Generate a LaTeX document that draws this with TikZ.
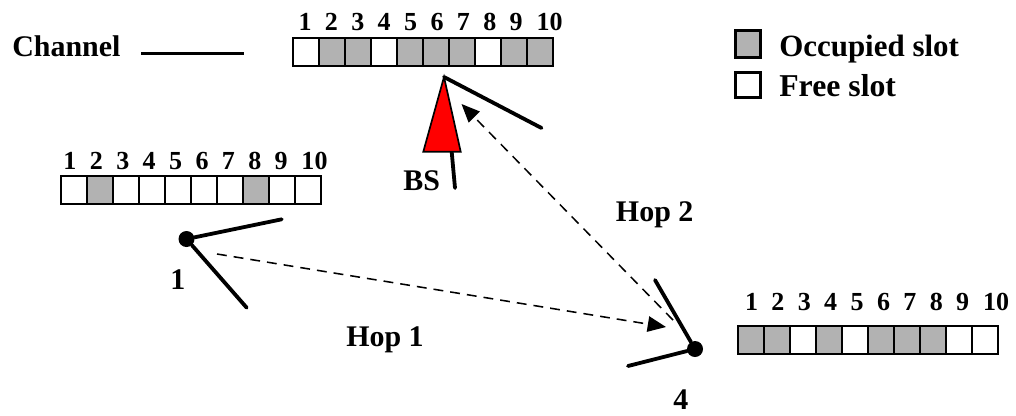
\documentclass[tikz,border=0pt]{standalone}
\usepackage{fontspec}
\setmainfont{Liberation Serif}
\definecolor{slotgray}{RGB}{178,178,178}
\usetikzlibrary{arrows.meta,positioning}

% #1 name, #2 left, #3 top, #4 free slots, #5 occupied slots, #6 x of first number, #7 baseline of numbers
\newcommand{\slotbar}[7]{
  \foreach \i in {#4}
    \node[slotcell] (#1-\i) at ({#2+26*\i-13},{#3+14}) {};
  \foreach \i in {#5}
    \node[slotcell,fill=slotgray] (#1-\i) at ({#2+26*\i-13},{#3+14}) {};
  \foreach \i in {1,...,9}
    \node[numlabel] (#1-num-\i) at ({#6+26.4*(\i-1)},#7) {\i};
  \node[numlabel] (#1-num-10) at ({#6+244.5},#7) {10};
}

\begin{document}
\begin{tikzpicture}[
  x=0.025cm,y=-0.025cm,
  every node/.style={font=\fontsize{21.3}{24}\selectfont\bfseries},
  slotcell/.style={draw,line width=1.25pt,minimum width=0.65cm,minimum height=0.7cm,inner sep=0pt},
  numlabel/.style={font=\fontsize{18.5}{20}\selectfont\bfseries,anchor=base,inner sep=0pt},
  txtlabel/.style={anchor=base west,inner sep=0pt},
  dotnode/.style={circle,fill=black,minimum size=0.4cm,inner sep=0pt},
  antenna/.style={line width=2.7pt,line cap=round},
  hop/.style={line width=1.1pt,dash pattern=on 7pt off 5pt,-{Triangle[length=13pt,width=11pt]}},
]
  \useasboundingbox (0,0) rectangle (1016,415);

  % Channel
  \node[txtlabel] (channel) at (12,56.5) {Channel};
  \coordinate (chanA) at (141,53.5);
  \coordinate (chanB) at (244,53.5);
  \draw[line width=1.6pt] (chanA) -- (chanB);

  % Slot bars
  \slotbar{barBS}{293}{38}{1,4,8}{2,3,5,6,7,9,10}{305}{30}
  \slotbar{barA}{61}{176}{1,3,4,5,6,7,9,10}{2,8}{70}{169}
  \slotbar{barB}{738}{326}{3,5,9,10}{1,2,4,6,7,8}{751.5}{310}

  % Legend
  \node[slotcell,fill=slotgray,line width=1.6pt,minimum width=0.62cm,minimum height=0.68cm] (legOcc) at (748,44) {};
  \node[slotcell,line width=1.6pt,minimum width=0.62cm,minimum height=0.62cm] (legFree) at (748,85) {};
  \node[txtlabel,font=\fontsize{22}{24}\selectfont\bfseries] (occText) at (779,56) {Occupied slot};
  \node[txtlabel,font=\fontsize{22.6}{24}\selectfont\bfseries] (freeText) at (779,96) {Free slot};

  % Hops
  \coordinate (hopAs) at (217,254);
  \coordinate (hopAe) at (666,327);
  \coordinate (hopBs) at (673,320);
  \coordinate (hopBe) at (461.5,104);
  \draw[hop] (hopAs) -- (hopAe);
  \draw[hop] (hopBs) -- (hopBe);

  % BS
  \coordinate (bsTop) at (444,77);
  \coordinate (bsArm) at (541.5,128);
  \coordinate (bsL) at (423.3,151.7);
  \coordinate (bsR) at (460.7,151.7);
  \coordinate (bsMastA) at (451.7,152);
  \coordinate (bsMastB) at (455,188);
  \draw[antenna] (bsMastA) -- (bsMastB);
  \draw[antenna] (bsTop) -- (bsArm);
  \draw[fill=red,line width=1.2pt] (bsTop) -- (bsL) -- (bsR) -- cycle;
  \node[txtlabel] (bsLabel) at (403,190) {BS};

  % Node 1
  \node[dotnode] (staA) at (186.5,239) {};
  \coordinate (staAarm) at (281.7,219.3);
  \coordinate (staAleg) at (246.7,307.7);
  \draw[antenna] (staA) -- (staAarm);
  \draw[antenna] (staA) -- (staAleg);
  \node[txtlabel] (staAlabel) at (170,289) {1};

  % Node 4
  \node[dotnode] (staB) at (695,349) {};
  \coordinate (staBarm) at (655,280);
  \coordinate (staBleg) at (628,366);
  \draw[antenna] (staB) -- (staBarm);
  \draw[antenna] (staB) -- (staBleg);
  \node[txtlabel] (staBlabel) at (673,409) {4};

  % Hop labels
  \node[txtlabel] (hopAlabel) at (346,346) {Hop 1};
  \node[txtlabel] (hopBlabel) at (615.7,221.7) {Hop 2};
\end{tikzpicture}
\end{document}
